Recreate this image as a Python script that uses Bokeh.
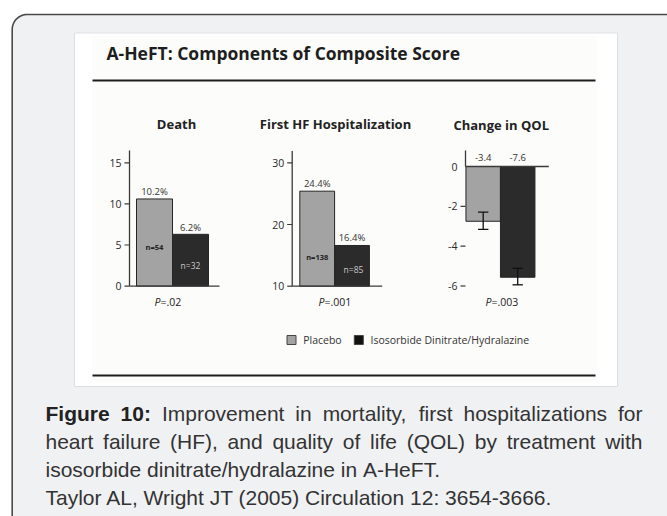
import numpy as np
from bokeh.plotting import figure
from bokeh.models import Range1d
from bokeh.core.properties import value
from bokeh.embed import file_html
from bokeh.resources import INLINE

# ---------------- data ----------------
title = "A-HeFT: Components of Composite Score"
panels = ["Death", "First HF Hospitalization", "Change in QOL"]
series = ["Placebo", "Isosorbide Dinitrate/Hydralazine"]

death_vals = [10.6, 6.3]
death_labels = ["10.2%", "6.2%"]
death_n = ["n=54", "n=32"]
death_ticks = [0, 5, 10, 15]

hosp_vals = [25.4, 16.6]
hosp_labels = ["24.4%", "16.4%"]
hosp_n = ["n=138", "n=85"]
hosp_ticks = [10, 20, 30]

qol_vals = [-2.75, -5.56]
qol_err_low = [-3.16, -5.94]
qol_err_high = [-2.29, -5.11]
qol_labels = ["-3.4", "-7.6"]
qol_ticks = [0, -2, -4, -6]

p_values = [".02", ".001", ".003"]

caption_bold = "Figure 10:"
caption_lines = [
    "Figure 10: Improvement in mortality, first hospitalizations for",
    "heart failure (HF), and quality of life (QOL) by treatment with",
    "isosorbide dinitrate/hydralazine in A-HeFT.",
]
citation = "Taylor AL, Wright JT (2005) Circulation 12: 3654-3666."

# ---------------- styles ----------------
bar_colors = ["#a3a3a3", "#2b2b2b"]
FONT = value("Open Sans")
CAP_FONT = value("Liberation Sans")

W, H = 667, 516
X0, Y0 = 0, 0

p = figure(width=W, height=H, x_range=Range1d(X0, X0 + W), y_range=Range1d(Y0 + H, Y0),
           toolbar_location=None, output_backend="svg",
           x_axis_location=None, y_axis_location=None, min_border=0)
p.grid.visible = False
p.outline_line_color = None
p.background_fill_color = "white"
p.border_fill_color = "white"


def xr(p0, v0, p1, v1):
    k = (v1 - v0) / (p1 - p0)
    return Range1d(start=v0 + (X0 - p0) * k, end=v0 + (X0 + W - p0) * k)


def yr(p0, v0, p1, v1):
    k = (v1 - v0) / (p1 - p0)
    return Range1d(start=v0 + (Y0 + H - p0) * k, end=v0 + (Y0 - p0) * k)


p.extra_x_ranges = {
    "x1": xr(154, 0, 190, 1),
    "x2": xr(316.7, 0, 351.5, 1),
    "x3": xr(482.7, 0, 517.2, 1),
}
p.extra_y_ranges = {
    "y1": yr(285.6, 0, 162.3, 15),
    "y2": yr(285.7, 10, 162.3, 30),
    "y3": yr(166, 0, 285.5, -6),
}

# ---------------- background box ----------------
r = 15
bx, by = 11.7, 14
ang = np.linspace(np.pi, 1.5 * np.pi, 24)
xs = [bx] + list(bx + r + r * np.cos(ang)) + [720, 720]
ys = [720] + list(by + r + r * np.sin(ang)) + [by, 720]
p.patch(xs, ys, fill_color="#f0f1f3", line_color="#4a4a4a", line_width=1.6)

# white panel and inner image
p.quad(left=[74], right=[617], top=[32.5], bottom=[386], fill_color="white",
       line_color="#dedfe2", line_width=1)
p.quad(left=[92], right=[596], top=[36], bottom=[382], fill_color="#fcfcfa", line_color=None)

# title and rules
p.text(x=[106], y=[52], text=[title], text_font=FONT, text_font_size="17.5px",
       text_font_style="bold", text_color="#1e1e1e", text_baseline="middle", text_align="left")
p.segment(x0=[92, 92], y0=[80, 375], x1=[595, 595], y1=[80, 375], line_color="#1e1e1e", line_width=2)

# panel titles
p.text(x=[176, 335, 500.7], y=[123, 123, 124], text=panels, text_font=FONT,
       text_font_size="13px", text_font_style="bold", text_color="#222",
       text_baseline="middle", text_align="center")

AX = "#3a3a3a"
idx = np.arange(2)


def axis(name, ax_x, x_end, ticks, base, top_val, tick_marks):
    p.segment(x0=[ax_x], y0=[base], x1=[ax_x], y1=[top_val], y_range_name=name,
              line_color=AX, line_width=1.3)
    p.segment(x0=[ax_x], y0=[0 if name == "y3" else base], x1=[x_end],
              y1=[0 if name == "y3" else base], y_range_name=name, line_color=AX, line_width=1.3)
    p.segment(x0=[ax_x - 5] * len(tick_marks), y0=tick_marks, x1=[ax_x] * len(tick_marks),
              y1=tick_marks, y_range_name=name, line_color=AX, line_width=1.2)
    p.text(x=[ax_x - 8] * len(ticks), y=ticks, text=[str(t) for t in ticks], y_range_name=name,
           text_font=FONT, text_font_size="10.5px", text_color="#2a2a2a",
           text_baseline="middle", text_align="right")


# ---- chart 1: Death ----
p.vbar(x=idx, width=1, bottom=0, top=death_vals, fill_color=bar_colors, line_color="#262626",
       line_width=1, x_range_name="x1", y_range_name="y1")
axis("y1", 129, 219, death_ticks, 0, 16.5, death_ticks)
p.text(x=idx, y=death_vals, text=death_labels, x_range_name="x1", y_range_name="y1", y_offset=-7,
       text_font=FONT, text_font_size="9.5px", text_color="#333", text_baseline="middle", text_align="center")
p.text(x=[154], y=[246.7], text=[death_n[0]], text_font=FONT, text_font_size="7.5px",
       text_font_style="bold", text_color="#222", text_baseline="middle", text_align="center")
p.text(x=[190], y=[265], text=[death_n[1]], text_font=FONT, text_font_size="8.5px",
       text_color="#c8c8c8", text_baseline="middle", text_align="center")

# ---- chart 2: First HF Hospitalization ----
p.vbar(x=idx, width=1, bottom=hosp_ticks[0], top=hosp_vals, fill_color=bar_colors, line_color="#262626",
       line_width=1, x_range_name="x2", y_range_name="y2")
axis("y2", 291.7, 381.7, hosp_ticks, hosp_ticks[0], 31.9, hosp_ticks)
p.text(x=idx, y=hosp_vals, text=hosp_labels, x_range_name="x2", y_range_name="y2", y_offset=-8,
       text_font=FONT, text_font_size="9.5px", text_color="#333", text_baseline="middle", text_align="center")
p.text(x=[316.7], y=[256.7], text=[hosp_n[0]], text_font=FONT, text_font_size="7.5px",
       text_font_style="bold", text_color="#222", text_baseline="middle", text_align="center")
p.text(x=[353], y=[269.3], text=[hosp_n[1]], text_font=FONT, text_font_size="8.5px",
       text_color="#c8c8c8", text_baseline="middle", text_align="center")

# ---- chart 3: Change in QOL ----
p.vbar(x=idx, width=1, bottom=0, top=qol_vals, fill_color=bar_colors, line_color="#262626",
       line_width=1, x_range_name="x3", y_range_name="y3")
axis("y3", 465, 548.3, qol_ticks, 0, 0.8, [t for t in qol_ticks if t != 0])
p.segment(x0=idx, y0=qol_err_low, x1=idx, y1=qol_err_high, x_range_name="x3", y_range_name="y3",
          line_color="#111", line_width=1.3)
for ys_ in (qol_err_low, qol_err_high):
    p.segment(x0=idx - 0.15, y0=ys_, x1=idx + 0.15, y1=ys_, x_range_name="x3", y_range_name="y3",
              line_color="#111", line_width=1.3)
p.text(x=idx, y=[0, 0], text=qol_labels, x_range_name="x3", y_range_name="y3", y_offset=-9,
       text_font=FONT, text_font_size="9.5px", text_color="#333", text_baseline="middle", text_align="center")

# P values
split_x = [160, 324, 491]
p.text(x=split_x, y=[301.7] * 3, text=["P"] * 3, text_font=FONT, text_font_size="10.5px",
       text_font_style="italic", text_color="#222", text_baseline="middle", text_align="right")
p.text(x=split_x, y=[301.7] * 3, text=["=" + v for v in p_values], text_font=FONT,
       text_font_size="10.5px", text_color="#222", text_baseline="middle", text_align="left")

# legend
p.rect(x=[291, 358.3], y=[339.5, 339.5], width=9, height=9, fill_color=[bar_colors[0], "#111"],
       line_color="#444", line_width=1)
p.text(x=[302.7, 370], y=[339.5, 339.5], text=series, text_font=FONT, text_font_size="10.5px",
       text_color="#333", text_baseline="middle", text_align="left")

# ---------------- caption (justified) ----------------
AR = {' ': 278, '(': 333, ')': 333, ',': 278, '-': 333, '.': 278, '/': 278, ':': 278,
      'A': 667, 'C': 722, 'F': 611, 'H': 722, 'I': 278, 'J': 500, 'L': 556, 'O': 778, 'Q': 778,
      'T': 611, 'W': 944, 'a': 556, 'b': 556, 'c': 500, 'd': 556, 'e': 556, 'f': 278, 'g': 556,
      'h': 556, 'i': 222, 'l': 222, 'm': 833, 'n': 556, 'o': 556, 'p': 556, 'q': 556, 'r': 333,
      's': 500, 't': 278, 'u': 556, 'v': 500, 'w': 722, 'y': 500, 'z': 500}
for d in "0123456789":
    AR[d] = 556
ARB = {'F': 611, 'i': 278, 'g': 611, 'u': 611, 'r': 389, 'e': 556, ':': 333, ' ': 278}
for d in "0123456789":
    ARB[d] = 556

FS = 21
CAP_L, CAP_R = 45, 642
cap_y = [413, 441, 469]
bold_words = caption_bold.split()

reg_x, reg_y, reg_t, b_x, b_y, b_t = [], [], [], [], [], []
for li, line in enumerate(caption_lines):
    words = line.split()
    flags = [li == 0 and wi < len(bold_words) for wi in range(len(words))]
    widths = [sum((ARB if b else AR).get(c, 556) for c in w) / 1000 * FS for w, b in zip(words, flags)]
    justify = li < len(caption_lines) - 1
    gap = (CAP_R - CAP_L - sum(widths)) / (len(words) - 1) if justify else 0.278 * FS
    x = CAP_L
    for w, b, wd in zip(words, flags, widths):
        if b:
            b_x.append(x); b_y.append(cap_y[li]); b_t.append(w)
        else:
            reg_x.append(x); reg_y.append(cap_y[li]); reg_t.append(w)
        x += wd + gap

p.text(x=reg_x, y=reg_y, text=reg_t, text_font=CAP_FONT, text_font_size=f"{FS}px",
       text_color="#333", text_baseline="middle", text_align="left")
p.text(x=b_x, y=b_y, text=b_t, text_font=CAP_FONT, text_font_size=f"{FS}px", text_font_style="bold",
       text_color="#222", text_baseline="middle", text_align="left")
p.text(x=[CAP_L], y=[497], text=[citation], text_font=CAP_FONT, text_font_size=f"{FS}px",
       text_color="#333", text_baseline="middle", text_align="left")

open("out.html", "w").write(file_html(p, INLINE))
